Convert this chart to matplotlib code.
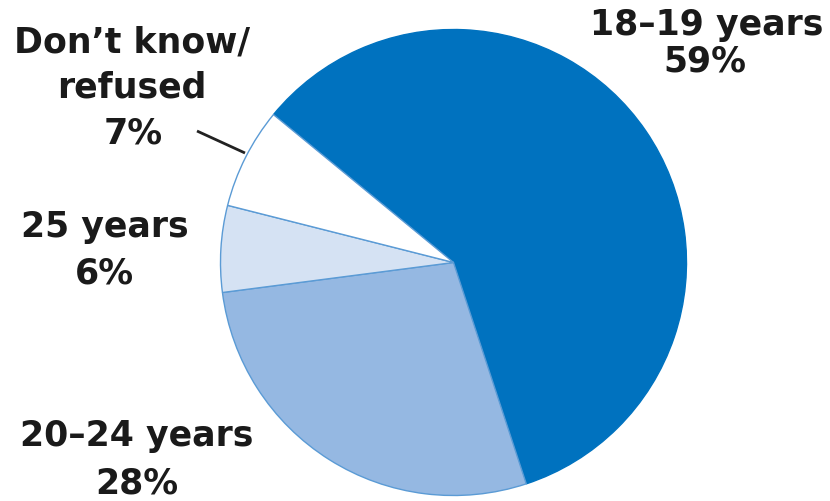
import matplotlib
matplotlib.use("Agg")
import matplotlib.pyplot as plt

# Age distribution shares
categories = ["18–19 years", "20–24 years", "25 years", "Don’t know/\nrefused"]
shares = [59, 28, 6, 7]
colors = ["#0072BF", "#95B8E2", "#D5E2F3", "#FFFFFF"]

W, H = 830, 501
fig = plt.figure(figsize=(W / 100, H / 100), dpi=100)
ax = fig.add_axes([0, 0, 1, 1])

cx, cy, r = 453.5, H - 262.5, 233
wedges, _ = ax.pie(
    shares,
    colors=colors,
    startangle=140.6,
    counterclock=False,
    center=(cx, cy),
    radius=r,
    frame=True,
    wedgeprops=dict(edgecolor="#5B9BD5", linewidth=1.0),
)
# the dominant slice needs no outline
wedges[0].set_edgecolor(colors[0])

ax.set_xlim(0, W)
ax.set_ylim(0, H)
ax.set_aspect("auto")
ax.axis("off")

# label lines: (text, x centre, baseline from top)
label_lines = [
    ("18–19 years", 707, 35), ("59%", 705, 71),
    ("Don’t know/", 132, 52), ("refused", 132, 97), ("7%", 133, 143),
    ("25 years", 105, 237), ("6%", 104, 283),
    ("20–24 years", 137, 446), ("28%", 137, 493),
]
for txt, x, base in label_lines:
    ax.text(x, H - base, txt, ha="center", va="baseline",
            fontsize=25, fontweight="bold", family="DejaVu Sans",
            color="#1A1A1A")

# leader line for the small slice
ax.plot([197, 245], [H - 131, H - 153], color="#222222", lw=2,
        solid_capstyle="butt")

fig.savefig("out.png", dpi=100)
